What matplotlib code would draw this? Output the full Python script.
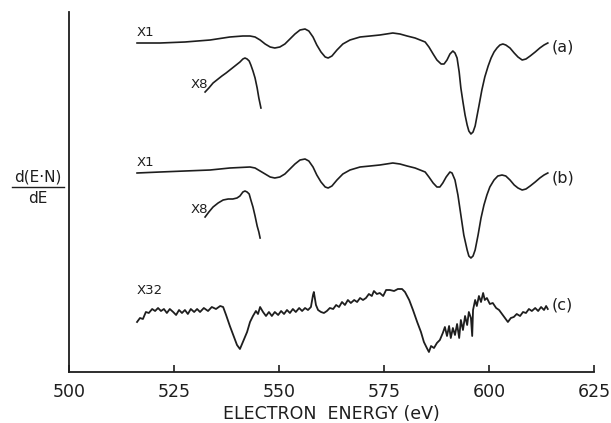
import matplotlib
matplotlib.use("Agg")
import matplotlib.pyplot as plt

# Auger spectra, d(E.N)/dE in arbitrary units (curves offset vertically)
ink = "#1e1e1e"

# spectrum (a), x1
a_energy = [516.2, 521.7, 527.6, 533.6, 538.3, 541.4, 543.1,
            544.3, 545.5, 546.7, 547.9, 549.0, 550.2, 551.4, 552.6, 553.8, 555.0,
            556.2, 557.1, 558.1, 559.0, 560.0, 561.0, 561.7, 562.6, 563.8, 565.2,
            566.9, 569.3, 571.7, 574.0, 577.1, 578.8, 580.5, 582.4, 583.6, 584.8,
            585.7, 586.7, 587.6, 588.6, 589.3, 590.0, 590.7, 591.4, 591.9, 592.4,
            592.9, 593.3, 593.8, 594.3, 594.8, 595.2, 595.7, 596.2, 596.7, 597.1,
            597.6, 598.3, 599.0, 599.8, 600.5, 601.2, 601.9, 602.6, 603.3, 604.0,
            605.0, 606.0, 606.9, 607.9, 608.8, 609.8, 611.0, 612.1, 613.1, 614.0]
a_signal = [329, 329, 330, 332, 335, 336, 336,
            335, 332, 328, 325, 324, 325, 328, 333, 338, 342,
            343, 341, 335, 327, 320, 315, 314, 316, 322, 328,
            332, 335, 336, 337, 339, 338, 336, 334, 332, 330,
            325, 318, 312, 308, 308, 312, 318, 321, 319, 314,
            300, 284, 270, 257, 247, 241, 238, 240, 246, 255,
            266, 282, 295, 306, 314, 320, 324, 327, 328, 327,
            324, 319, 315, 312, 313, 316, 320, 324, 327, 329]

# spectrum (a), x8 segment
a8_energy = [532.4, 533.3, 534.3, 535.2, 536.4, 537.4, 538.3, 539.5, 540.7, 541.4,
             541.9, 542.4, 542.9, 543.3, 543.8, 544.3, 544.8, 545.2, 545.7]
a8_signal = [280, 284, 289, 292, 296, 299, 302, 306, 310, 313,
             314, 313, 311, 307, 301, 294, 284, 274, 264]

# spectrum (b), x1
b_energy = [516.2, 521.7, 527.6, 533.6, 538.3, 543.1,
            544.3, 545.5, 546.7, 547.9, 549.0, 550.2, 551.4, 552.6, 553.8, 555.0,
            556.2, 557.1, 558.1, 559.0, 560.0, 561.0, 561.7, 562.6, 563.8, 565.2,
            566.9, 569.3, 571.7, 574.0, 577.1, 578.8, 580.5, 582.4, 583.6, 584.8,
            585.7, 586.7, 587.6, 588.3, 589.0, 589.8, 590.7, 591.2, 591.9, 592.6,
            593.3, 594.0, 594.8, 595.2, 595.7, 596.2, 596.7, 597.4, 598.1, 598.8,
            599.5, 600.2, 601.2, 602.1, 603.1, 604.0, 605.0, 606.0, 606.9, 607.9,
            608.8, 609.8, 611.0, 612.1, 613.1, 614.0]
b_signal = [199, 200, 201, 202, 204, 205,
            204, 201, 198, 195, 194, 195, 198, 203, 208, 212,
            213, 211, 205, 197, 190, 185, 184, 186, 192, 198,
            202, 205, 206, 207, 209, 208, 206, 204, 202, 200,
            195, 189, 185, 185, 189, 195, 200, 199, 192, 177,
            157, 137, 122, 116, 114, 116, 122, 137, 154, 167,
            177, 185, 192, 196, 197, 196, 192, 187, 184, 182,
            183, 186, 190, 194, 197, 199]

# spectrum (b), x8 segment
b8_energy = [532.4, 533.3, 534.3, 535.5, 536.7, 537.9, 539.0, 540.0, 540.7, 541.4,
             541.9, 542.4, 542.9, 543.3, 543.8, 544.3, 544.8, 545.2, 545.5]
b8_signal = [155, 160, 165, 169, 172, 173, 173, 174, 176, 180,
             181, 180, 178, 172, 165, 156, 146, 140, 134]

# spectrum (c), x32
c_energy = [516.2, 516.9, 517.6, 518.3, 519.0, 519.8, 520.5, 521.2, 521.9, 522.6,
            523.3, 524.0, 524.8, 525.5, 526.2, 526.9, 527.6, 528.3, 529.0, 529.8,
            530.5, 531.2, 532.1, 533.1, 534.0, 535.0, 536.0, 536.7, 537.4, 538.3,
            539.3, 540.0, 540.7, 541.4, 542.4, 543.1, 543.8, 544.5, 545.0, 545.5,
            546.2, 546.9, 547.6, 548.3, 549.0, 549.8, 550.5, 551.2, 551.9, 552.6,
            553.3, 554.0, 554.8, 555.5, 556.2, 556.9, 557.6, 558.1, 558.3, 558.8,
            559.3, 560.0, 560.7, 561.4, 562.1, 562.9, 563.6, 564.3, 565.0, 565.7,
            566.4, 567.1, 567.9, 568.6, 569.3, 570.0, 570.7, 571.4, 572.1, 572.6,
            573.3, 574.0, 574.8, 575.5, 576.4, 577.4, 578.3, 579.3, 580.0, 581.0,
            581.9, 582.9, 583.8, 584.5, 585.2, 585.7, 586.2, 586.9, 587.6, 588.3,
            589.0, 589.5, 590.0, 590.5, 590.9, 591.4, 591.9, 592.4, 592.9, 593.3,
            593.8, 594.3, 594.8, 595.2, 595.7, 596.0, 596.2, 596.7, 597.1, 597.6,
            598.1, 598.6, 599.0, 599.5, 600.2, 600.9, 601.7, 602.4, 603.1, 603.8,
            604.5, 605.2, 605.9, 606.6, 607.4, 608.1, 608.8, 609.5, 610.2, 611.0,
            611.7, 612.4, 613.1, 613.6, 614.0]
c_signal = [50, 54, 53, 60, 59, 63, 61, 64, 61, 63,
            59, 63, 60, 57, 62, 59, 62, 58, 63, 60,
            63, 60, 64, 61, 65, 63, 66, 65, 57, 46,
            35, 27, 23, 30, 40, 50, 56, 61, 58, 65,
            60, 56, 60, 56, 60, 57, 61, 58, 62, 59,
            63, 60, 64, 61, 64, 62, 65, 77, 80, 67,
            62, 60, 59, 61, 64, 63, 67, 65, 70, 67,
            72, 69, 72, 70, 74, 72, 74, 78, 76, 81,
            78, 79, 76, 82, 82, 81, 83, 83, 80, 72,
            62, 50, 40, 30, 24, 20, 26, 24, 29, 32,
            39, 45, 36, 46, 34, 44, 37, 48, 34, 52,
            42, 56, 47, 60, 54, 36, 62, 72, 66, 76,
            70, 79, 72, 74, 68, 69, 64, 62, 58, 54,
            50, 54, 55, 58, 56, 60, 59, 63, 61, 64,
            61, 65, 62, 66, 63]

xticks = [500, 525, 550, 575, 600, 625]

fig = plt.figure(figsize=(6.11, 4.23), dpi=100)
ax = fig.add_axes([69 / 611, 51 / 423, 525 / 611, 360 / 423])

for e, s in [(a_energy, a_signal), (a8_energy, a8_signal), (b_energy, b_signal),
             (b8_energy, b8_signal)]:
    ax.plot(e, s, color=ink, lw=1.2, solid_joinstyle="round")
ax.plot(c_energy, c_signal, color=ink, lw=1.3, solid_joinstyle="round")

# gain and curve labels
lab = dict(color=ink, fontsize=9.5, va="center", ha="center")
ax.text(518.1, 339, "X1", **lab)
ax.text(531.0, 287, "X8", **lab)
ax.text(518.1, 210, "X1", **lab)
ax.text(531.0, 163, "X8", **lab)
ax.text(519.3, 82, "X32", **lab)
for y, t in [(325, "(a)"), (194, "(b)"), (67, "(c)")]:
    ax.text(615.0, y, t, color=ink, fontsize=11.5, va="center", ha="left")

ax.set_xlim(500, 625)
ax.set_ylim(0, 360)
ax.set_xticks(xticks)
ax.set_yticks([])
ax.tick_params(axis="x", direction="in", length=5, width=1.2, pad=8,
               labelsize=12.5, colors=ink)
for side in ["top", "right"]:
    ax.spines[side].set_visible(False)
for side in ["left", "bottom"]:
    ax.spines[side].set_linewidth(1.3)
    ax.spines[side].set_color(ink)

ax.set_xlabel("ELECTRON  ENERGY (eV)", fontsize=12.5, color=ink, labelpad=3)

# y label written as a fraction
fig.text(38 / 611, 1 - 177 / 423, "d(E·N)", fontsize=11, color=ink,
         ha="center", va="center")
fig.text(38 / 611, 1 - 198 / 423, "dE", fontsize=11, color=ink,
         ha="center", va="center")
fig.add_artist(plt.Line2D([12 / 611, 64 / 611], [1 - 187 / 423, 1 - 187 / 423],
                          color=ink, lw=1.0))

fig.savefig("out.png", dpi=100)
